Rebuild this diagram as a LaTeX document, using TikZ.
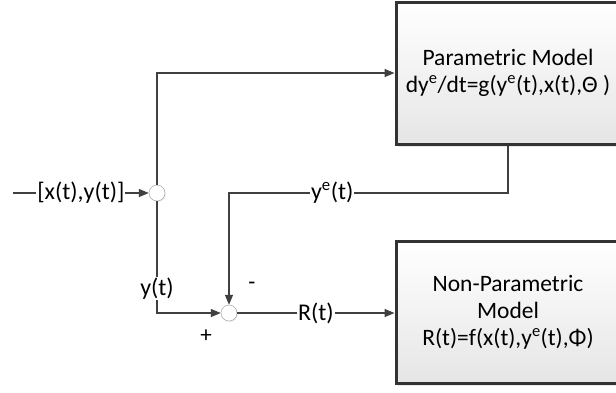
\documentclass[tikz,border=0pt]{standalone}
\usepackage{fontspec}
\setmainfont{Carlito}
\usetikzlibrary{arrows.meta,shadows}

\begin{document}
\begin{tikzpicture}
[
  x=1pt, y=-1pt,
  line/.style={draw=black!75, line width=1.3pt},
  arr/.style={line, -{Triangle[length=10pt,width=8pt]}},
  model/.style={draw=black!80, line width=3pt, top color=white, bottom color=black!10,
    minimum width=224pt, minimum height=142pt, align=center,
    font=\fontsize{23.5}{27}\selectfont,
    drop shadow={shadow xshift=2pt, shadow yshift=-3pt, fill=black!18}},
  junc/.style={circle, draw=black!40, fill=white, minimum size=16pt, inner sep=0pt,
    drop shadow={shadow xshift=1pt, shadow yshift=-1pt, fill=black!15}},
  lbl/.style={fill=white, inner sep=1pt, font=\fontsize{24}{26}\selectfont},
  sign/.style={font=\fontsize{23}{26}\selectfont}
]
  \useasboundingbox (0,0) rectangle (616,392);

  % the two models
  \node[model] (param) at (508,73)
    {Parametric Model\\dy\textsuperscript{e}/dt=g(y\textsuperscript{e}(t),x(t),Θ )};
  \node[model] (nonparam) at (508,312)
    {Non-Parametric\\Model\\R(t)=f(x(t),y\textsuperscript{e}(t),Φ)};

  % junctions
  \node[junc] (split) at (157,193) {};
  \node[junc] (sum) at (229,313) {};
  \coordinate (in) at (13,193);
  \coordinate (fb) at (229,193);

  \draw[arr] (in) -- node[lbl] {[x(t),y(t)]} (split);
  \draw[arr] (split) |- (param.west);
  \draw[arr] (split) |- node[lbl,pos=0.39] {y(t)} (sum);
  \draw[arr] (param.south) |- node[lbl,pos=0.815] {y\textsuperscript{e}(t)} (fb) -- (sum);
  \draw[arr] (sum) -- node[lbl] {R(t)} (sum -| nonparam.west);

  \node[sign] (minus) at (252,286) {-};
  \node[sign] (plus) at (206,336) {+};
\end{tikzpicture}
\end{document}
